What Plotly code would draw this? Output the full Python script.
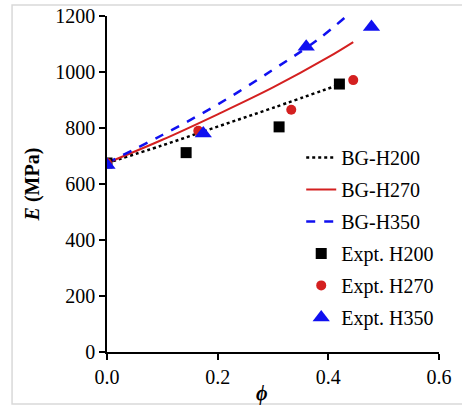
import plotly.graph_objects as go

# Model curves (BG)
phi_h200 = [0.0, 0.1, 0.2, 0.3, 0.42]
E_h200 = [675, 738, 805, 872, 955]
phi_h270 = [0.0, 0.1, 0.2, 0.3, 0.4, 0.445]
E_h270 = [675, 758, 849, 945, 1053, 1107]
phi_h350 = [0.0, 0.1, 0.2, 0.3, 0.38, 0.432]
E_h350 = [675, 775, 884, 1008, 1114, 1198]

# Experimental points
xe_h200 = [0.0, 0.143, 0.311, 0.42]
ye_h200 = [675, 712, 804, 957]
xe_h270 = [0.0, 0.165, 0.333, 0.445]
ye_h270 = [675, 790, 865, 971]
xe_h350 = [0.0, 0.174, 0.36, 0.478]
ye_h350 = [668, 780, 1090, 1161]

x_ticks = [0.0, 0.2, 0.4, 0.6]
x_tick_labels = ["0.0", "0.2", "0.4", "0.6"]
y_ticks = [0, 200, 400, 600, 800, 1000, 1200]

FONT = "Liberation Serif"

fig = go.Figure()
fig.add_trace(go.Scatter(x=phi_h200, y=E_h200, mode="lines", name="BG-H200", legendgroup="a",
                         line=dict(color="black", width=2.5, dash="dot"), line_shape="spline"))
fig.add_trace(go.Scatter(x=phi_h270, y=E_h270, mode="lines", name="BG-H270", legendgroup="b",
                         line=dict(color="#d42020", width=2), line_shape="spline"))
fig.add_trace(go.Scatter(x=phi_h350, y=E_h350, mode="lines", name="BG-H350", legendgroup="c",
                         line=dict(color="#1010f0", width=2.5, dash="dash"), line_shape="spline"))
fig.add_trace(go.Scatter(x=xe_h200, y=ye_h200, mode="markers", name="Expt. H200", legendgroup="d",
                         marker=dict(symbol="square", color="black", size=11)))
fig.add_trace(go.Scatter(x=xe_h270, y=ye_h270, mode="markers", name="Expt. H270", legendgroup="e",
                         marker=dict(symbol="circle", color="#d42020", size=10)))
fig.add_trace(go.Scatter(x=xe_h350, y=ye_h350, mode="markers", name="Expt. H350", legendgroup="f",
                         marker=dict(symbol="triangle-up", color="#1010f0", size=15)))

fig.update_layout(
    width=462, height=408,
    margin=dict(l=107, r=23, t=16, b=56),
    paper_bgcolor="white", plot_bgcolor="white",
    font=dict(family=FONT, size=20, color="black"),
    showlegend=True,
    legend=dict(x=0.585, y=0.045, xanchor="left", yanchor="bottom",
                bgcolor="rgba(0,0,0,0)", font=dict(size=20, family=FONT),
                tracegroupgap=3, itemsizing="trace"),
    xaxis=dict(range=[0, 0.6], tickvals=x_ticks, ticktext=x_tick_labels, automargin=False,
               showgrid=False, zeroline=False, showline=True, linecolor="black", linewidth=1.5,
               ticks="outside", ticklen=6, tickwidth=1.5, tickcolor="black",
               tickfont=dict(size=20, family=FONT)),
    yaxis=dict(range=[0, 1200], tickvals=y_ticks, automargin=False,
               showgrid=False, zeroline=False, showline=True, linecolor="black", linewidth=1.5,
               ticks="outside", ticklen=6, tickwidth=1.5, tickcolor="black",
               tickfont=dict(size=20, family=FONT),
               title=dict(text="<b><i>E</i> (MPa)</b>", font=dict(size=20, family=FONT), standoff=10)),
    shapes=[dict(type="rect", xref="paper", yref="paper", x0=-0.286, y0=-0.155, x1=1.2, y1=1.033,
                 line=dict(color="#d9d9d9", width=1.5), fillcolor="rgba(0,0,0,0)", layer="below")],
    annotations=[dict(text="<b><i>ϕ</i></b>", xref="paper", yref="paper", x=0.467, y=-0.123,
                      xanchor="center", yanchor="middle", showarrow=False,
                      font=dict(size=20, family=FONT))],
)

fig.write_html("out.html", config={"displayModeBar": False},
               post_script="document.body.style.margin='0px';")
